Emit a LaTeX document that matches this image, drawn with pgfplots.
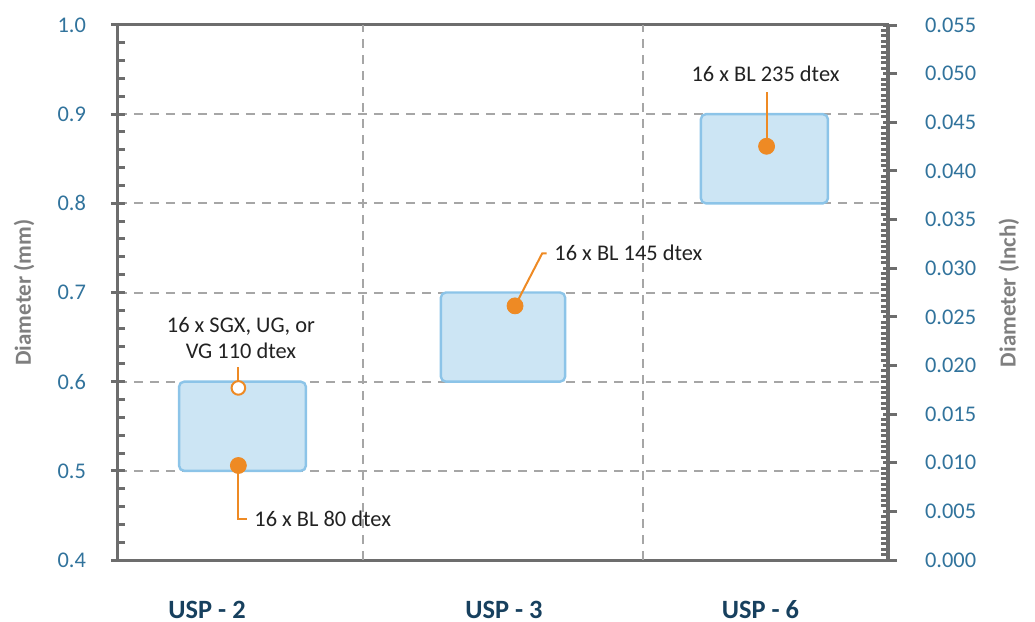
\documentclass[border=0pt]{standalone}
\usepackage{fontspec}
\setmainfont{Carlito}
\usepackage{pgfplots}
\pgfplotsset{compat=1.18}

\definecolor{tickblue}{HTML}{31739C}
\definecolor{navy}{HTML}{17405E}
\definecolor{labgray}{HTML}{7F7F7F}
\definecolor{axgray}{HTML}{6D6D6D}
\definecolor{gridgray}{HTML}{A6A6A6}
\definecolor{boxfill}{HTML}{CCE5F4}
\definecolor{boxdraw}{HTML}{8CC4E8}
\definecolor{orng}{HTML}{EE8A24}
\definecolor{txt}{HTML}{222222}

\begin{document}
\begin{tikzpicture}
\pgfplotsset{
  common/.style={
    width=385pt, height=267.5pt, scale only axis,
    xmin=0, xmax=3,
    /pgf/number format/assume math mode=true,
    scaled y ticks=false,
    axis line style={axgray, line width=1.5pt},
    every tick/.style={axgray, line width=1.5pt},
    tick align=inside,
    major tick length=7pt,
    minor tick length=3.5pt,
    clip=false,
  }
}
\begin{axis}[common,
  ymin=0.4, ymax=1.0,
  ytick={0.4,0.5,0.6,0.7,0.8,0.9,1.0},
  yticklabels={0.4,0.5,0.6,0.7,0.8,0.9,1.0},
  minor y tick num=4,
  ytick pos=left,
  every major y tick/.append style={xshift=-3.5pt},
  yticklabel style={tickblue, font=\fontsize{11.2}{13}\selectfont, xshift=-12.5pt},
  ymajorgrids,
  major grid style={gridgray, line width=1pt, dash pattern=on 4.5pt off 3.5pt},
  xtick={0.347,1.504,2.503},
  xticklabels={USP - 2, USP - 3, USP - 6},
  xtick pos=bottom,
  every major x tick/.append style={draw=none},
  xticklabel style={navy, font=\bfseries\fontsize{13.2}{15}\selectfont, anchor=base, yshift=-29pt},
  extra x ticks={0.956,2.044},
  extra x tick labels={},
  extra x tick style={grid=major, major tick length=0pt},
  ylabel={Diameter (mm)},
  every axis y label/.style={at={(axis description cs:-0.122,0.5)}, rotate=90, anchor=center, labgray, font=\bfseries\fontsize{11.5}{14}\selectfont},
]
% boxes (range of each size)
\addplot[fill=boxfill, draw=boxdraw, line width=1.2pt, rounded corners=2.5pt] coordinates {(0.238,0.5) (0.732,0.5) (0.732,0.6) (0.238,0.6)} -- cycle;
\addplot[fill=boxfill, draw=boxdraw, line width=1.2pt, rounded corners=2.5pt] coordinates {(1.258,0.6) (1.742,0.6) (1.742,0.7) (1.258,0.7)} -- cycle;
\addplot[fill=boxfill, draw=boxdraw, line width=1.2pt, rounded corners=2.5pt] coordinates {(2.271,0.8) (2.766,0.8) (2.766,0.9) (2.271,0.9)} -- cycle;
% leader lines
\draw[orng, line width=1pt] (axis cs:0.469,0.593) -- (axis cs:0.469,0.617);
\draw[orng, line width=1pt] (axis cs:0.469,0.506) -- (axis cs:0.469,0.446) -- (axis cs:0.503,0.446);
\draw[orng, line width=1pt] (axis cs:1.547,0.685) -- (axis cs:1.653,0.744) -- (axis cs:1.670,0.744);
\draw[orng, line width=1pt] (axis cs:2.527,0.864) -- (axis cs:2.527,0.925);
% points
\addplot[only marks, mark=*, mark size=4pt, mark options={draw=orng, fill=orng}] coordinates {(0.469,0.506) (1.547,0.685) (2.527,0.864)};
\addplot[only marks, mark=*, mark size=3.4pt, mark options={draw=orng, fill=white, line width=1pt}] coordinates {(0.469,0.593)};
% annotations
\node[txt, font=\fontsize{11.2}{13.3}\selectfont, anchor=west, inner sep=0pt] at (axis cs:0.530,0.446) {16 x BL 80 dtex};
\node[txt, font=\fontsize{11.2}{13.3}\selectfont, anchor=west, inner sep=0pt] at (axis cs:1.699,0.744) {16 x BL 145 dtex};
\node[txt, font=\fontsize{11.2}{13.3}\selectfont, anchor=center, inner sep=0pt] at (axis cs:2.523,0.9458) {16 x BL 235 dtex};
\node[txt, font=\fontsize{11.2}{13.3}\selectfont, anchor=center, inner sep=0pt, align=center] at (axis cs:0.479,0.649) {16 x SGX, UG, or\\VG 110 dtex};
\end{axis}
\begin{axis}[common,
  ymin=0, ymax=0.055,
  axis x line=none,
  axis y line*=right,
  ytick={0,0.005,0.010,0.015,0.020,0.025,0.030,0.035,0.040,0.045,0.050,0.055},
  yticklabels={0.000,0.005,0.010,0.015,0.020,0.025,0.030,0.035,0.040,0.045,0.050,0.055},
  minor y tick num=8,
  every major y tick/.append style={xshift=4.5pt},
  yticklabel style={tickblue, font=\fontsize{11.2}{13}\selectfont, xshift=15pt},
  ylabel={Diameter (Inch)},
  every axis y label/.style={at={(axis description cs:1.157,0.5)}, rotate=90, anchor=center, labgray, font=\bfseries\fontsize{11.5}{14}\selectfont},
]
\end{axis}
\pgfresetboundingbox
\path[use as bounding box] (-59pt,-31pt) rectangle (458.5pt,280pt);
\end{tikzpicture}
\end{document}
